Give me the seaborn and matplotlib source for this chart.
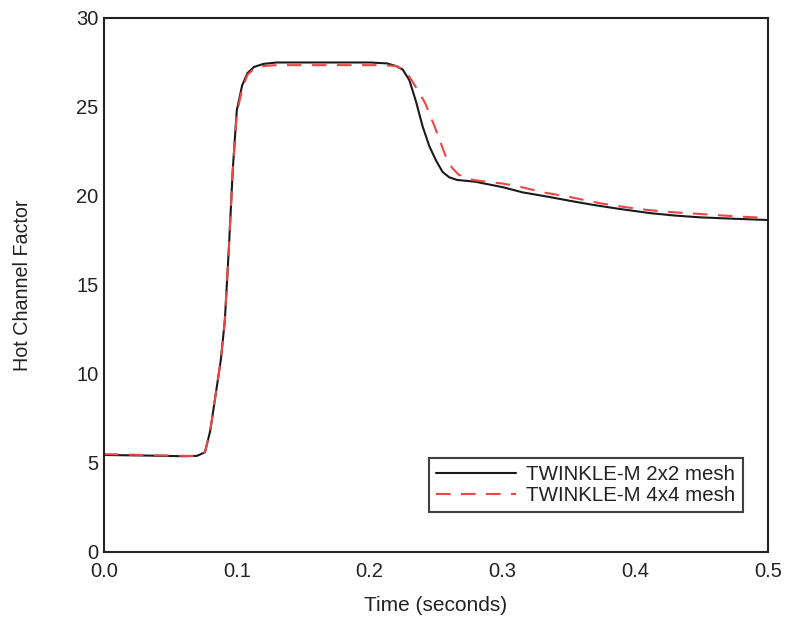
import numpy as np
import pandas as pd
import matplotlib
matplotlib.use("Agg")
import matplotlib.pyplot as plt
import seaborn as sns

# --- data ---
t_2x2 = [0.0, 0.03, 0.06, 0.07, 0.076, 0.080, 0.084, 0.088, 0.091, 0.094, 0.097,
         0.100, 0.104, 0.108, 0.113, 0.12, 0.13, 0.20, 0.213, 0.22, 0.225, 0.23,
         0.235, 0.24, 0.245, 0.25, 0.255, 0.26, 0.266, 0.28, 0.285, 0.30, 0.3155,
         0.335, 0.353, 0.37, 0.3886, 0.411, 0.43, 0.449, 0.475, 0.50]
y_2x2 = [5.45, 5.42, 5.38, 5.40, 5.6, 6.8, 8.8, 10.8, 13.0, 17.0, 21.5,
         24.8, 26.2, 26.9, 27.25, 27.42, 27.5, 27.5, 27.45, 27.3, 27.1, 26.5,
         25.3, 23.9, 22.8, 22.0, 21.35, 21.05, 20.9, 20.8, 20.72, 20.5, 20.2,
         19.95, 19.7, 19.48, 19.27, 19.04, 18.9, 18.8, 18.72, 18.65]

t_4x4 = [0.0, 0.03, 0.06, 0.07, 0.076, 0.080, 0.084, 0.088, 0.091, 0.094, 0.097,
         0.100, 0.104, 0.108, 0.113, 0.12, 0.13, 0.21, 0.22, 0.225, 0.23, 0.235,
         0.242, 0.249, 0.257, 0.262, 0.267, 0.278, 0.288, 0.30, 0.311, 0.331,
         0.351, 0.373, 0.39, 0.411, 0.43, 0.449, 0.475, 0.50]
y_4x4 = [5.5, 5.45, 5.4, 5.4, 5.6, 6.8, 8.8, 10.8, 13.0, 17.0, 21.5,
         24.6, 26.0, 26.8, 27.15, 27.3, 27.35, 27.35, 27.3, 27.1, 26.7, 26.1,
         25.2, 23.9, 22.3, 21.6, 21.2, 20.9, 20.8, 20.7, 20.56, 20.2,
         19.94, 19.6, 19.4, 19.2, 19.08, 18.99, 18.86, 18.76]

labels = ["TWINKLE-M 2x2 mesh", "TWINKLE-M 4x4 mesh"]
xticks = [0.0, 0.1, 0.2, 0.3, 0.4, 0.5]
xticklabels = ["0.0", "0.1", "0.2", "0.3", "0.4", "0.5"]
yticks = [0, 5, 10, 15, 20, 25, 30]

df = pd.concat([
    pd.DataFrame({"Time": t_2x2, "HCF": y_2x2, "Case": labels[0]}),
    pd.DataFrame({"Time": t_4x4, "HCF": y_4x4, "Case": labels[1]}),
])

sns.set_style("white")
plt.rcParams["font.family"] = ["Liberation Sans", "DejaVu Sans"]

fig = plt.figure(figsize=(7.86, 6.18), dpi=100)
ax = fig.add_axes([0.1323, 0.1068, 0.977 - 0.1323, 0.9709 - 0.1068])

sns.lineplot(data=df, x="Time", y="HCF", hue="Case", style="Case",
             palette={labels[0]: "#1a1a1a", labels[1]: "#f04545"},
             dashes={labels[0]: "", labels[1]: (7, 5)},
             linewidth=1.5, ax=ax, sort=False)

ax.set_xlim(0, 0.5)
ax.set_ylim(0, 30)
ax.set_xticks(xticks)
ax.set_xticklabels(xticklabels)
ax.set_yticks(yticks)
ax.tick_params(axis="both", direction="in", length=6, width=1.2,
               labelsize=14.5, colors="#222222")
ax.tick_params(axis="x", pad=7.5)
ax.tick_params(axis="y", pad=4)
for s in ax.spines.values():
    s.set_color("#222222")
    s.set_linewidth(1.5)
ax.set_xlabel("Time (seconds)", fontsize=15, color="#222222")
ax.set_ylabel("Hot Channel Factor", fontsize=14.2, color="#222222")
ax.xaxis.set_label_coords(0.5, -0.082)
ax.yaxis.set_label_coords(-0.108, 0.5)

leg = ax.legend(loc="lower right", bbox_to_anchor=(0.962, 0.075), fontsize=14.8,
                frameon=True, fancybox=False, edgecolor="#111111",
                handlelength=3.9, borderpad=0.35, labelspacing=0.1,
                handletextpad=0.5, borderaxespad=0.0, title=None)
leg.get_frame().set_linewidth(1.5)
for txt in leg.get_texts():
    txt.set_color("#222222")

fig.savefig("out.png", dpi=100)
